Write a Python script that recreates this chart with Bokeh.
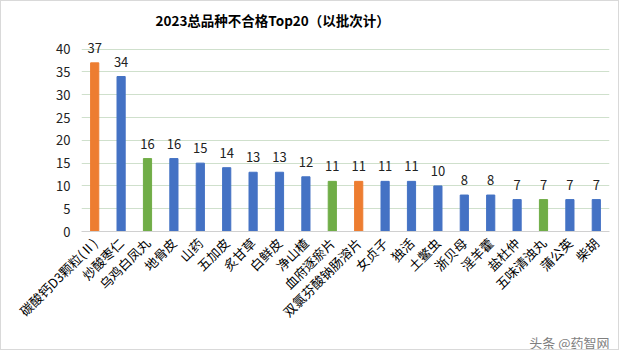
import math
from bokeh.plotting import figure
from bokeh.models import ColumnDataSource, Title, LabelSet, FixedTicker
from bokeh.embed import file_html
from bokeh.resources import INLINE
from bokeh.core.properties import value

categories = ["碳酸钙D3颗粒(Ⅱ)", "炒酸枣仁", "乌鸡白凤丸", "地骨皮", "山药", "五加皮", "炙甘草",
              "白鲜皮", "净山楂", "血府逐瘀片", "双氯芬酸钠肠溶片", "女贞子", "独活", "土鳖虫",
              "浙贝母", "淫羊藿", "盐杜仲", "五味清浊丸", "蒲公英", "柴胡"]
counts = [37, 34, 16, 16, 15, 14, 13, 13, 12, 11, 11, 11, 11, 10, 8, 8, 7, 7, 7, 7]
kinds = ["orange", "blue", "green", "blue", "blue", "blue", "blue", "blue", "blue", "green",
         "orange", "blue", "blue", "blue", "blue", "blue", "blue", "green", "blue", "blue"]
palette = {"orange": "#ED7D31", "blue": "#4472C4", "green": "#70AD47"}
y_ticks = [0, 5, 10, 15, 20, 25, 30, 35, 40]

FONT = "Noto Sans CJK SC"

src = ColumnDataSource(dict(cat=categories, val=counts,
                            color=[palette[k] for k in kinds],
                            lbl=[str(v) for v in counts]))

p = figure(x_range=categories, y_range=(0, 43), width=619, height=350,
           output_backend="svg", toolbar_location=None,
           min_border_left=80, min_border_right=11, min_border_top=34,
           min_border_bottom=111)

p.title.text = "2023总品种不合格Top20（以批次计）"
p.title.align = "left"
p.title.offset = 74
p.title.standoff = 12
p.title.text_font = FONT
p.title.text_font_size = "13.5px"
p.title.text_font_style = "bold"
p.title.text_color = "#000000"

p.vbar(x="cat", top="val", width=0.31, color="color", source=src)

labels = LabelSet(x="cat", y="val", text="lbl", source=src, y_offset=10,
                  text_align="center", text_baseline="bottom",
                  text_font=value(FONT), text_font_size="13px", text_color="#222222")
p.add_layout(labels)

wm = Title(text="头条 @药智网", align="right", text_font=FONT,
           text_font_size="13px", text_font_style="normal", text_color="#7f7f7f",
           standoff=0, offset=0)
p.add_layout(wm, "below")

p.yaxis.ticker = FixedTicker(ticks=y_ticks)
p.yaxis.axis_line_color = None
p.yaxis.major_tick_line_color = None
p.yaxis.minor_tick_line_color = None
p.yaxis.major_label_text_font = FONT
p.yaxis.major_label_text_font_size = "13px"
p.yaxis.major_label_text_color = "#222222"

p.xaxis.axis_line_color = "#d0d0d0"
p.xaxis.major_tick_line_color = None
p.xaxis.minor_tick_line_color = None
p.xaxis.major_label_standoff = 3
p.xaxis.major_label_orientation = math.pi / 4
p.xaxis.major_label_text_font = FONT
p.xaxis.major_label_text_font_size = "13px"
p.xaxis.major_label_text_color = "#000000"

p.xgrid.grid_line_color = None
p.ygrid.grid_line_color = "#cfe0cc"
p.outline_line_color = None
p.x_range.range_padding = 0
p.styles = {"border": "1px solid #d9d9d9"}

open("out.html", "w").write(file_html(p, INLINE))
